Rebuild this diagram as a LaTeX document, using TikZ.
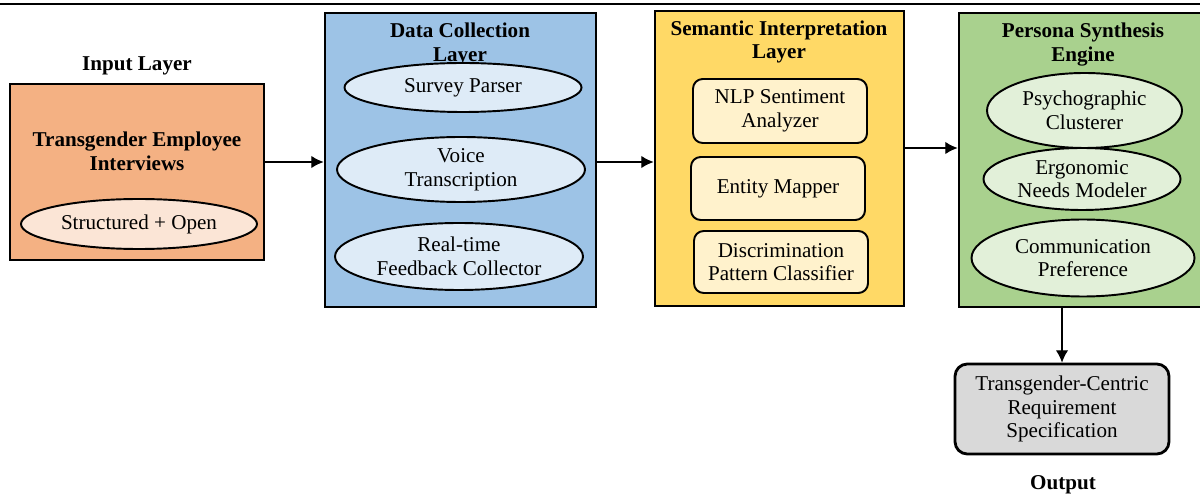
\documentclass[tikz,border=0pt]{standalone}
\usepackage{fontspec}
\setmainfont{Liberation Serif}
\usetikzlibrary{shapes.geometric,arrows.meta}
\definecolor{inOrange}{HTML}{F4B183}
\definecolor{inOrangeL}{HTML}{FBE5D6}
\definecolor{colBlue}{HTML}{9DC3E6}
\definecolor{colBlueL}{HTML}{DEEBF7}
\definecolor{semYellow}{HTML}{FFD966}
\definecolor{semYellowL}{HTML}{FFF2CC}
\definecolor{perGreen}{HTML}{A9D18E}
\definecolor{perGreenL}{HTML}{E2F0D9}
\definecolor{outGray}{HTML}{D9D9D9}

\begin{document}
\begin{tikzpicture}[
	font=\fontsize{12}{13.5}\selectfont,
	layer/.style={draw, line width=1.6pt, inner sep=0pt},
	unit/.style={draw, line width=1.1pt, align=center, inner sep=0pt},
	oval/.style={unit, ellipse},
	card/.style={unit, rounded corners=5.5pt},
	heading/.style={font=\fontsize{12}{13.5}\selectfont\bfseries, align=center},
	flow/.style={-{Latex[length=7pt,width=7pt]}, line width=0.6pt}
	]
	\useasboundingbox (0,0) rectangle (24,9.9);
	
	% Filet du haut
	\draw[line width=1.5pt] (0,9.82) -- (24,9.82);
	
	% Couche d'entree
	\node[heading] (inlabel) at (2.74,8.58) {Input Layer};
	\node[layer, fill=inOrange, minimum width=5.08cm, minimum height=3.52cm]
		(inbox) at (2.74,6.46) {};
	\node[heading] (intitle) at (2.74,6.88) {Transgender Employee\\Interviews};
	\node[oval, fill=inOrangeL, minimum width=4.72cm, minimum height=1.0cm]
		(inmode) at (2.78,5.42) {Structured + Open};
	
	% Collecte des donnees
	\node[layer, fill=colBlue, minimum width=5.42cm, minimum height=5.88cm]
		(colbox) at (9.21,6.70) {};
	\node[heading] (coltitle) at (9.20,9.01) {Data Collection\\Layer};
	\node[oval, fill=colBlueL, minimum width=4.74cm, minimum height=0.98cm]
		(survey) at (9.26,8.15) {Survey Parser};
	\node[oval, fill=colBlueL, minimum width=4.96cm, minimum height=1.30cm]
		(voice) at (9.22,6.51) {Voice\\Transcription};
	\node[oval, fill=colBlueL, minimum width=4.96cm, minimum height=1.34cm]
		(feedback) at (9.18,4.77) {Real-time\\Feedback Collector};
	
	% Interpretation semantique
	\node[layer, fill=semYellow, minimum width=4.98cm, minimum height=5.90cm]
		(sembox) at (15.59,6.73) {};
	\node[heading] (semtitle) at (15.58,9.06) {Semantic Interpretation\\Layer};
	\node[card, fill=semYellowL, minimum width=3.48cm, minimum height=1.28cm]
		(nlp) at (15.60,7.68) {NLP Sentiment\\Analyzer};
	\node[card, fill=semYellowL, minimum width=3.48cm, minimum height=1.26cm]
		(entity) at (15.56,6.13) {Entity Mapper};
	\node[card, fill=semYellowL, minimum width=3.48cm, minimum height=1.24cm]
		(discrim) at (15.62,4.66) {Discrimination\\Pattern Classifier};
	
	% Moteur de personas (coupe a droite)
	\node[layer, fill=perGreen, minimum width=4.96cm, minimum height=5.88cm]
		(perbox) at (21.66,6.70) {};
	\node[heading] (pertitle) at (21.66,9.01) {Persona Synthesis\\Engine};
	\node[oval, fill=perGreenL, minimum width=3.90cm, minimum height=1.50cm]
		(psycho) at (21.69,7.69) {Psychographic\\Clusterer};
	\node[oval, fill=perGreenL, minimum width=3.94cm, minimum height=1.24cm]
		(ergo) at (21.64,6.32) {Ergonomic\\Needs Modeler};
	\node[oval, fill=perGreenL, minimum width=4.46cm, minimum height=1.54cm]
		(comm) at (21.66,4.74) {Communication\\Preference};
	
	% Sortie
	\node[unit, rounded corners=7pt, line width=1.6pt, fill=outGray,
		minimum width=4.28cm, minimum height=1.80cm]
		(outbox) at (21.24,1.72) {Transgender-Centric\\Requirement\\Specification};
	\node[heading] (outlabel) at (21.26,0.20) {Output};
	
	% Fleches
	\draw[flow] (inbox.east |- 0,6.66) -- (colbox.west |- 0,6.66);
	\draw[flow] (colbox.east |- 0,6.66) -- (sembox.west |- 0,6.66);
	\draw[flow] (sembox.east |- 0,6.94) -- (perbox.west |- 0,6.94);
	\draw[flow] (perbox.south -| outbox.north) -- (outbox.north);
\end{tikzpicture}
\end{document}
